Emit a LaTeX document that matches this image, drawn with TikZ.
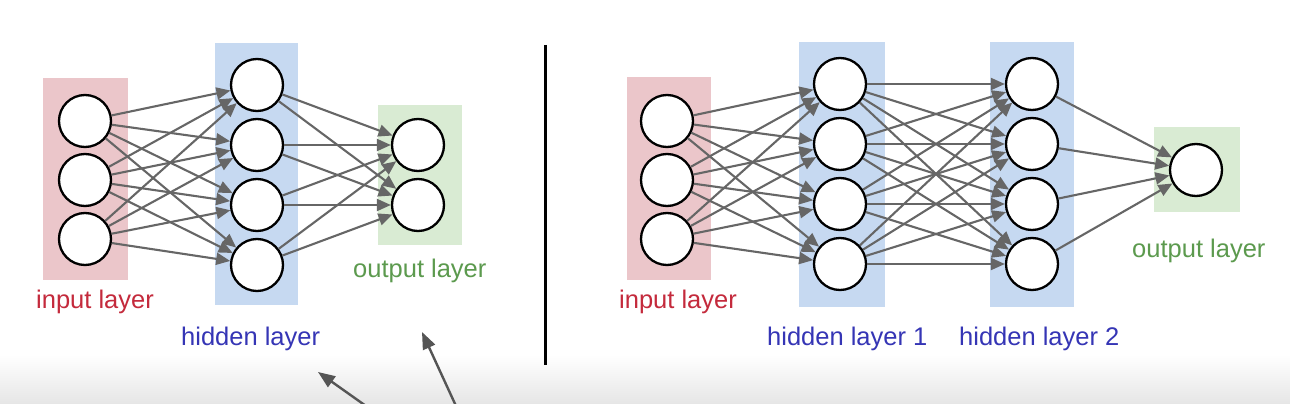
\documentclass[tikz,border=0pt]{standalone}
\usepackage{fontspec}
\setmainfont{Liberation Sans}
\usetikzlibrary{arrows.meta}
\definecolor{pinkbg}{HTML}{EBC6CA}
\definecolor{bluebg}{HTML}{C6D9F1}
\definecolor{greenbg}{HTML}{D9EBD3}
\definecolor{redtxt}{HTML}{C42A3C}
\definecolor{bluetxt}{HTML}{3535B5}
\definecolor{greentxt}{HTML}{5C9A4E}
\definecolor{edgegray}{HTML}{666666}
\definecolor{arrowgray}{HTML}{555555}
\begin{document}
\begin{tikzpicture}[x=1pt,y=-1pt,
  neuron/.style={circle,draw=black,fill=white,line width=2.3pt,minimum size=52pt,inner sep=0pt},
  conn/.style={draw=edgegray,line width=2.1pt,-{Triangle[length=14pt,width=12pt]}},
  pointer/.style={draw=arrowgray,line width=2.4pt,-{Triangle[length=17pt,width=13pt]}},
  lbl/.style={font=\fontsize{25.5}{30}\selectfont,inner sep=0pt,anchor=base west}]
\useasboundingbox (0,0) rectangle (1290,404);
\fill[white] (0,0) rectangle (1290,404);
\shade[top color=white,bottom color=black!10] (0,355) rectangle (1290,404);

% ---------- left network ----------
\fill[pinkbg] (43,78) rectangle (128,280);
\fill[bluebg] (215,43) rectangle (298,305);
\fill[greenbg] (378,105) rectangle (462,245);
\foreach \i/\y in {1/121,2/180,3/239} \node[neuron] (Li\i) at (85,\y) {};
\foreach \i/\y in {1/85,2/145,3/205,4/265} \node[neuron] (Lh\i) at (257,\y) {};
\foreach \i/\y in {1/145,2/205} \node[neuron] (Lo\i) at (418,\y) {};
\foreach \a in {1,2,3} \foreach \b in {1,2,3,4} \draw[conn] (Li\a) -- (Lh\b);
\foreach \a in {1,2,3,4} \foreach \b in {1,2} \draw[conn] (Lh\a) -- (Lo\b);
\node[lbl,text=redtxt] (Llin) at (36,308) {input layer};
\node[lbl,text=bluetxt] (Llhid) at (181,345) {hidden layer};
\node[lbl,text=greentxt] (Llout) at (353,277) {output layer};

% ---------- divider ----------
\coordinate (dtop) at (545,45);
\coordinate (dbot) at (545,365);
\draw[black,line width=3pt] (dtop) -- (dbot);

% ---------- right network ----------
\fill[pinkbg] (627,77) rectangle (711,280);
\fill[bluebg] (799,42) rectangle (885,307);
\fill[bluebg] (990,42) rectangle (1074,307);
\fill[greenbg] (1154,127) rectangle (1240,212);
\foreach \i/\y in {1/121,2/180,3/239} \node[neuron] (Ri\i) at (667,\y) {};
\foreach \i/\y in {1/84,2/144,3/204,4/264} \node[neuron] (Ra\i) at (840,\y) {};
\foreach \i/\y in {1/84,2/144,3/204,4/264} \node[neuron] (Rb\i) at (1032,\y) {};
\node[neuron] (Ro1) at (1196,170) {};
\foreach \a in {1,2,3} \foreach \b in {1,2,3,4} \draw[conn] (Ri\a) -- (Ra\b);
\foreach \a in {1,2,3,4} \foreach \b in {1,2,3,4} \draw[conn] (Ra\a) -- (Rb\b);
\foreach \a in {1,2,3,4} \draw[conn] (Rb\a) -- (Ro1);
\node[lbl,text=redtxt] (Rlin) at (619,308) {input layer};
\node[lbl,text=bluetxt] (Rlh1) at (767,345) {hidden layer 1};
\node[lbl,text=bluetxt] (Rlh2) at (959,345) {hidden layer 2};
\node[lbl,text=greentxt] (Rlout) at (1132,257) {output layer};

% ---------- pointers at bottom ----------
\coordinate (p1s) at (366,406);
\coordinate (p1e) at (318,372);
\coordinate (p2s) at (456,406);
\coordinate (p2e) at (422,332);
\draw[pointer] (p1s) -- (p1e);
\draw[pointer] (p2s) -- (p2e);
\end{tikzpicture}
\end{document}
